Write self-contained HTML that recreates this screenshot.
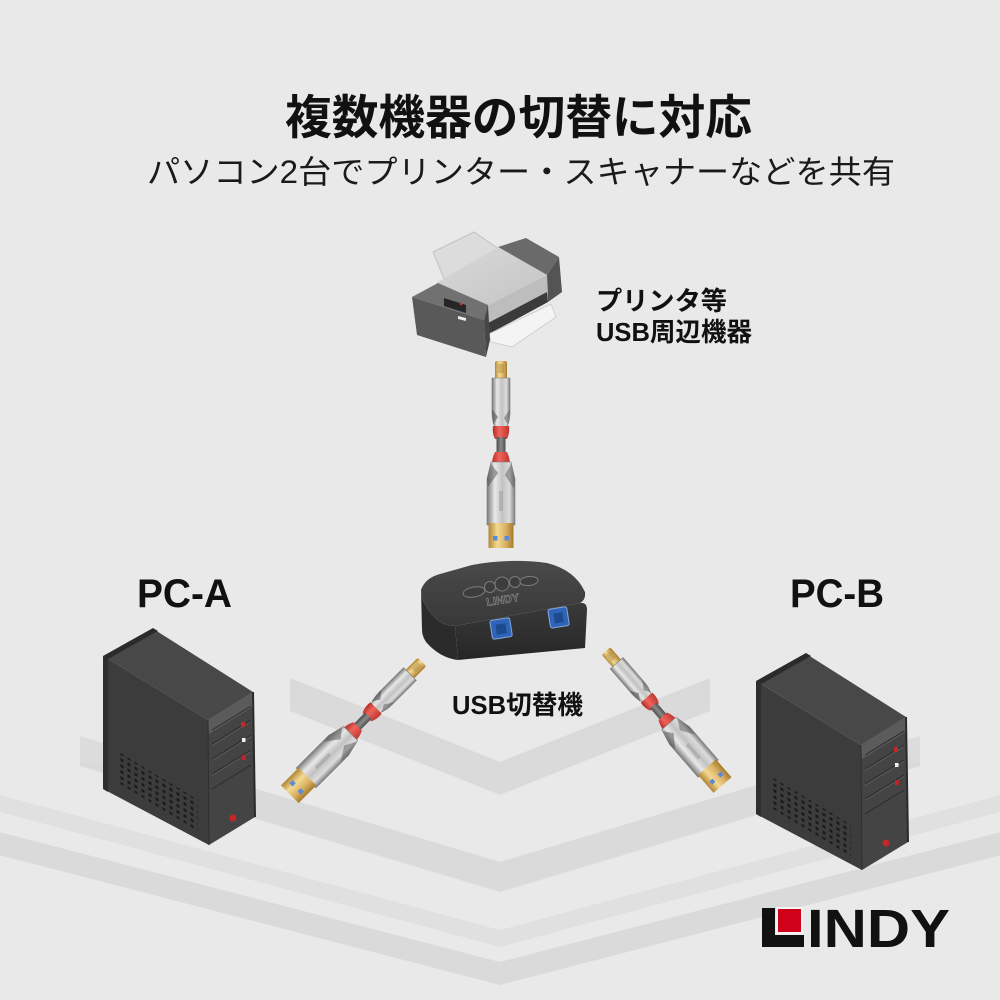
<!DOCTYPE html>
<html><head><meta charset="utf-8"><style>
html,body{margin:0;padding:0;width:1000px;height:1000px;overflow:hidden;background:#e9e9e9}
svg{display:block}
text{font-family:"Liberation Sans","Noto Sans CJK JP",sans-serif}
</style></head><body>
<svg width="1000" height="1000" viewBox="0 0 1000 1000" xmlns="http://www.w3.org/2000/svg">
<defs>
 <linearGradient id="silver" x1="0" y1="0" x2="1" y2="0">
  <stop offset="0" stop-color="#7a7a7a"/>
  <stop offset="0.28" stop-color="#e8e8e8"/>
  <stop offset="0.55" stop-color="#c2c2c2"/>
  <stop offset="0.8" stop-color="#dcdcdc"/>
  <stop offset="1" stop-color="#7e7e7e"/>
 </linearGradient>
 <linearGradient id="gold" x1="0" y1="0" x2="1" y2="0">
  <stop offset="0" stop-color="#b08534"/>
  <stop offset="0.35" stop-color="#f3d991"/>
  <stop offset="0.7" stop-color="#d8b062"/>
  <stop offset="1" stop-color="#a67b2c"/>
 </linearGradient>
 <linearGradient id="red" x1="0" y1="0" x2="1" y2="0">
  <stop offset="0" stop-color="#b22c27"/>
  <stop offset="0.4" stop-color="#f0645a"/>
  <stop offset="1" stop-color="#c03630"/>
 </linearGradient>
 <linearGradient id="cord" x1="0" y1="0" x2="1" y2="0">
  <stop offset="0" stop-color="#4e4e4e"/>
  <stop offset="0.5" stop-color="#8a8a8a"/>
  <stop offset="1" stop-color="#4e4e4e"/>
 </linearGradient>
 <linearGradient id="swtop" x1="0" y1="0" x2="0" y2="1">
  <stop offset="0" stop-color="#4a4a4a"/>
  <stop offset="1" stop-color="#383838"/>
 </linearGradient>
 <linearGradient id="swfront" x1="0" y1="0" x2="0" y2="1">
  <stop offset="0" stop-color="#3a3a3a"/>
  <stop offset="1" stop-color="#262626"/>
 </linearGradient>
 <linearGradient id="ptop" x1="0" y1="0" x2="1" y2="1">
  <stop offset="0" stop-color="#d9d9d9"/>
  <stop offset="1" stop-color="#c4c4c4"/>
 </linearGradient>
 <pattern id="vent" width="7" height="6" patternUnits="userSpaceOnUse" patternTransform="skewY(31)">
  <rect x="1.5" y="1.5" width="3" height="3" fill="#1b1b1b"/>
 </pattern>

 <g id="cable">
  <rect x="-6" y="0" width="12" height="19" rx="2" fill="url(#gold)"/>
  <rect x="-3" y="3" width="6" height="9" fill="#8a6a2a" opacity=".3"/>
  <path d="M-9,17 H9 V52 Q9,61 5,67 H-5 Q-9,61 -9,52 Z" fill="url(#silver)" stroke="#7a7a7a" stroke-width=".6"/>
  <path d="M-9,48 L-3,56 L-8,64 Z" fill="#4a4a4a" opacity=".55"/>
  <path d="M9,48 L3,57 L7,64 Z" fill="#555" opacity=".5"/>
  <path d="M-8,65 H8 Q9,72 6,78 H-6 Q-9,72 -8,65 Z" fill="url(#red)"/>
  <rect x="-4.5" y="76" width="9" height="17" fill="url(#cord)"/>
  <path d="M-6,91 H6 Q9,97 9,104 H-9 Q-9,97 -6,91 Z" fill="url(#red)"/>
  <path d="M-10,101 H10 L14,118 V164 H-14 V118 Z" fill="url(#silver)" stroke="#7a7a7a" stroke-width=".6"/>
  <path d="M-10,103 L-3,112 L-13,126 L-14,118 Z" fill="#505050" opacity=".5"/>
  <path d="M10,103 L4,114 L13,128 L14,118 Z" fill="#505050" opacity=".45"/>
  <path d="M-2,130 L2,130 L2,150 L-2,150 Z" fill="#9a9a9a" opacity=".5"/>
  <rect x="-12.5" y="162" width="25" height="25" fill="url(#gold)"/>
  <rect x="-8" y="175" width="4.5" height="4.5" fill="#5a8ad6"/>
  <rect x="3.5" y="175" width="4.5" height="4.5" fill="#5a8ad6"/>
 </g>

 <g id="pc">
  <polygon points="105,657 208,720 209,845 105,790" fill="#3c3c3c"/>
  <polygon points="105,657 155,630 253,692 208,720" fill="#484848"/>
  <polygon points="103,656 153,628 158,631 108,659" fill="#2b2b2b"/>
  <polygon points="103,656 108,659 108,792 103,789" fill="#2e2e2e"/>
  <polygon points="208,720 253,692 255,817 209,845" fill="#444444"/>
  <polygon points="208,720 253,692 254,706 209,734" fill="#5b5b5b"/>
  <line x1="253" y1="692" x2="255" y2="817" stroke="#2a2a2a" stroke-width="2"/>
  <line x1="208" y1="720" x2="209" y2="845" stroke="#2f2f2f" stroke-width="1"/>
  <polygon points="117,751 198,800 198,831 117,782" fill="url(#vent)"/>
  <g stroke="#2c2c2c" stroke-width="1">
   <line x1="212" y1="730" x2="251" y2="706"/>
   <line x1="212" y1="744" x2="251" y2="720"/>
   <line x1="212" y1="759" x2="251" y2="735"/>
   <line x1="212" y1="774" x2="251" y2="750"/>
   <line x1="212" y1="789" x2="251" y2="765"/>
  </g>
  <g stroke="#5a5a5a" stroke-width="1">
   <line x1="212" y1="731.5" x2="251" y2="707.5"/>
   <line x1="212" y1="745.5" x2="251" y2="721.5"/>
   <line x1="212" y1="760.5" x2="251" y2="736.5"/>
   <line x1="212" y1="775.5" x2="251" y2="751.5"/>
  </g>
  <rect x="241" y="722" width="4" height="5" fill="#c0282a"/>
  <rect x="242" y="738" width="3.5" height="4" fill="#f0f0f0"/>
  <rect x="242" y="755" width="4" height="5" fill="#b8282a"/>
  <circle cx="233" cy="818" r="3.5" fill="#c4262a"/>
 </g>
</defs>

<!-- background -->
<rect width="1000" height="1000" fill="#e9e9e9"/>
<g fill="#d5d5d5" opacity="0.7">
 <polygon points="290,678 500,762 710,678 710,711 500,795 290,711"/>
 <polygon points="80,736 500,862 920,736 920,766 500,892 80,766"/>
 <polygon points="0,795 500,930 1000,795 1000,812 500,947 0,812" opacity="0.6"/>
 <polygon points="-20,827 500,962 1020,827 1020,850 500,985 -20,850"/>
</g>

<!-- titles -->
<text x="285" y="134" font-size="47" font-weight="700" fill="#111" textLength="467" lengthAdjust="spacingAndGlyphs">複数機器の切替に対応</text>
<text x="147" y="183" font-size="32" font-weight="400" fill="#1a1a1a" textLength="748" lengthAdjust="spacingAndGlyphs">パソコン2台でプリンター・スキャナーなどを共有</text>

<!-- printer -->
<g>
 <polygon points="433,252 474,232 500,250 497,262 445,281" fill="#dcdcdc" stroke="#c2c2c2" stroke-width="1"/>
 <polygon points="498,247 526,238 559,257 547,275" fill="#6a6a6a"/>
 <polygon points="547,275 559,257 562,292 548,302" fill="#545454"/>
 <polygon points="436,283 498,247 547,275 487,306" fill="url(#ptop)"/>
 <polygon points="487,306 547,275 547,292 488,323" fill="#bdbdbd"/>
 <polygon points="488,323 547,292 548,302 489,334" fill="#3b3b3b"/>
 <polygon points="489,334 551,304 556,317 512,347 491,342" fill="#f4f4f4" stroke="#d0d0d0" stroke-width="1"/>
 <polygon points="412,297 438,283 488,305 484,320" fill="#717171"/>
 <polygon points="412,297 484,320 486,357 417,335" fill="#595959"/>
 <polygon points="484,320 488,305 490,340 486,357" fill="#474747"/>
 <polygon points="444,298 466,305 466,313 444,306" fill="#262626"/>
 <circle cx="461" cy="304" r="1.3" fill="#d33"/>
 <polygon points="458,316 466,318 466,321 458,319" fill="#eeeeee"/>
</g>
<text x="596" y="310" font-size="26" font-weight="700" fill="#111" textLength="131" lengthAdjust="spacingAndGlyphs">プリンタ等</text>
<text x="596" y="341" font-size="26" font-weight="700" fill="#111" textLength="156" lengthAdjust="spacingAndGlyphs">USB周辺機器</text>

<!-- cables -->
<use href="#cable" transform="translate(501,361)"/>
<use href="#cable" transform="translate(422,662) rotate(45)"/>
<use href="#cable" transform="translate(606,651) rotate(-41) scale(0.95)"/>

<!-- switch -->
<g>
 <path d="M421,590 Q421,600 430,612 Q440,626 455,626 L458,660 Q440,658 426,642 Q422,636 422,630 Z" fill="#2b2b2b"/>
 <path d="M455,626 L580,603 Q587,602 587,610 L585,648 L458,660 Z" fill="url(#swfront)"/>
 <path d="M421,590 Q425,578 440,574 L472,565 Q510,558 547,563 Q575,570 585,592 Q586,600 580,603 L455,626 Q440,626 430,612 Q421,600 421,590 Z" fill="url(#swtop)"/>
 <g fill="#3d3d3d" stroke="#7c7c7c" stroke-width="1">
  <ellipse cx="474" cy="592" rx="11" ry="5" transform="rotate(-10 474 592)"/>
  <circle cx="490" cy="587" r="5.5"/>
  <circle cx="502" cy="584" r="7"/>
  <circle cx="515" cy="582" r="5.5"/>
  <ellipse cx="529" cy="581" rx="9" ry="4.5" transform="rotate(-5 529 581)"/>
 </g>
 <text x="487" y="606" font-size="11" font-weight="700" fill="none" stroke="#8e8e8e" stroke-width=".6" transform="rotate(-9 487 606)">LINDY</text>
 <g transform="rotate(-9 501 628)">
  <rect x="491" y="619" width="20" height="19" rx="2" fill="#2f64b8" stroke="#86a9dd" stroke-width="1"/>
  <rect x="496" y="624" width="10" height="10" fill="#1e4a8e"/>
 </g>
 <g transform="rotate(-9 558 617)">
  <rect x="549" y="608" width="19" height="19" rx="2" fill="#2f64b8" stroke="#86a9dd" stroke-width="1"/>
  <rect x="554" y="613" width="9" height="10" fill="#1e4a8e"/>
 </g>
</g>
<text x="452" y="714" font-size="26" font-weight="700" fill="#111" textLength="131" lengthAdjust="spacingAndGlyphs">USB切替機</text>

<!-- PCs -->
<use href="#pc"/>
<use href="#pc" transform="translate(653,25)"/>
<text x="137" y="607" font-size="40" font-weight="700" fill="#111" textLength="95" lengthAdjust="spacingAndGlyphs">PC-A</text>
<text x="790" y="607" font-size="40" font-weight="700" fill="#111" textLength="94" lengthAdjust="spacingAndGlyphs">PC-B</text>

<!-- LINDY logo -->
<g>
 <rect x="762" y="908" width="13" height="39" fill="#111"/>
 <rect x="762" y="935" width="42" height="12" fill="#111"/>
 <rect x="776" y="907" width="27" height="27" fill="#f4f4f4"/>
 <rect x="778" y="909" width="23" height="23" fill="#d0021b"/>
 <text x="807" y="947" font-size="54" font-weight="700" fill="#111" textLength="143" lengthAdjust="spacingAndGlyphs">INDY</text>
</g>
</svg>
</body></html>
